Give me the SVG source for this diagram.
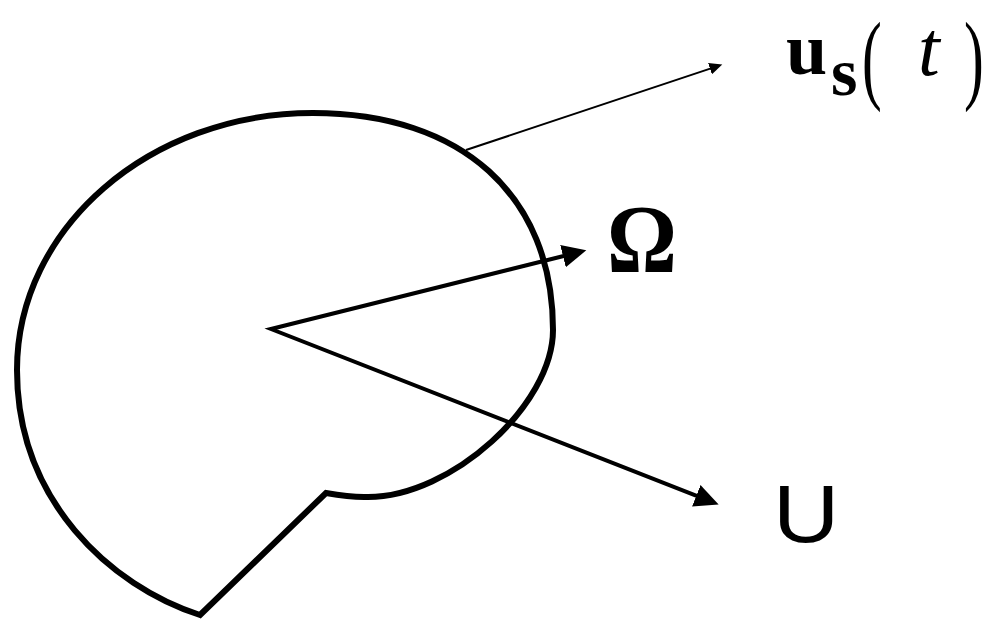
<svg xmlns="http://www.w3.org/2000/svg" width="989" height="621" viewBox="0 0 989 621">
<style>
.body{fill:none;stroke:#000;stroke-width:6;stroke-linejoin:miter;stroke-miterlimit:10}
.vec{fill:none;stroke:#000;stroke-width:4;stroke-linejoin:miter;stroke-miterlimit:10}
.thin{fill:none;stroke:#000;stroke-width:2}
.serif{font-family:"Liberation Serif","Times New Roman",serif;fill:#000}
.sans{font-family:"Liberation Sans",Arial,sans-serif;fill:#000}
</style>
<defs>
<marker id="headBig" markerUnits="userSpaceOnUse" markerWidth="25" markerHeight="23" refX="10" refY="11.5" orient="auto-start-reverse" viewBox="0 0 25 23">
<path d="M0,0 L24,11.5 L0,23 Z" fill="#000"/>
</marker>
<marker id="headSmall" markerUnits="userSpaceOnUse" markerWidth="14" markerHeight="12" refX="5" refY="6" orient="auto" viewBox="0 0 14 12">
<path d="M0,0 L13,6 L0,12 Z" fill="#000"/>
</marker>
</defs>
<g id="body">
<path class="body" d="M200,615 C110,586 17,500 17,370 C17,228 149.5,113 313,113 C461.8,113 553,195.5 553,330 C553,405 451,497 368,497 C355,497.5 340,495.5 326,493 L200,615 Z"/>
</g>
<g id="connectors">
<path id="vec-omega-U" class="vec" d="M572.7,253.7 L271,329 L705.6,499.4" marker-start="url(#headBig)" marker-end="url(#headBig)"/>
<path id="vec-us" class="thin" d="M466,150 L714.7,67.1" marker-end="url(#headSmall)"/>
</g>
<g id="label-us">
<text class="serif" font-weight="bold" font-size="74" x="786" y="74">u</text>
<text class="serif" font-weight="bold" font-size="68" x="831" y="95">s</text>
<text class="serif" font-size="99" transform="translate(862,91) scale(0.6,1)">(</text>
<text class="serif" font-style="italic" font-size="78" x="918" y="75">t</text>
<text class="serif" font-size="99" transform="translate(964,91) scale(0.6,1)">)</text>
</g>
<g id="label-omega">
<text class="serif" font-weight="bold" font-size="97" transform="translate(607,272) scale(0.9,1)">Ω</text>
</g>
<g id="label-U">
<text class="sans" font-size="82" transform="translate(773,542) scale(1.12,1)">U</text>
</g>
</svg>
